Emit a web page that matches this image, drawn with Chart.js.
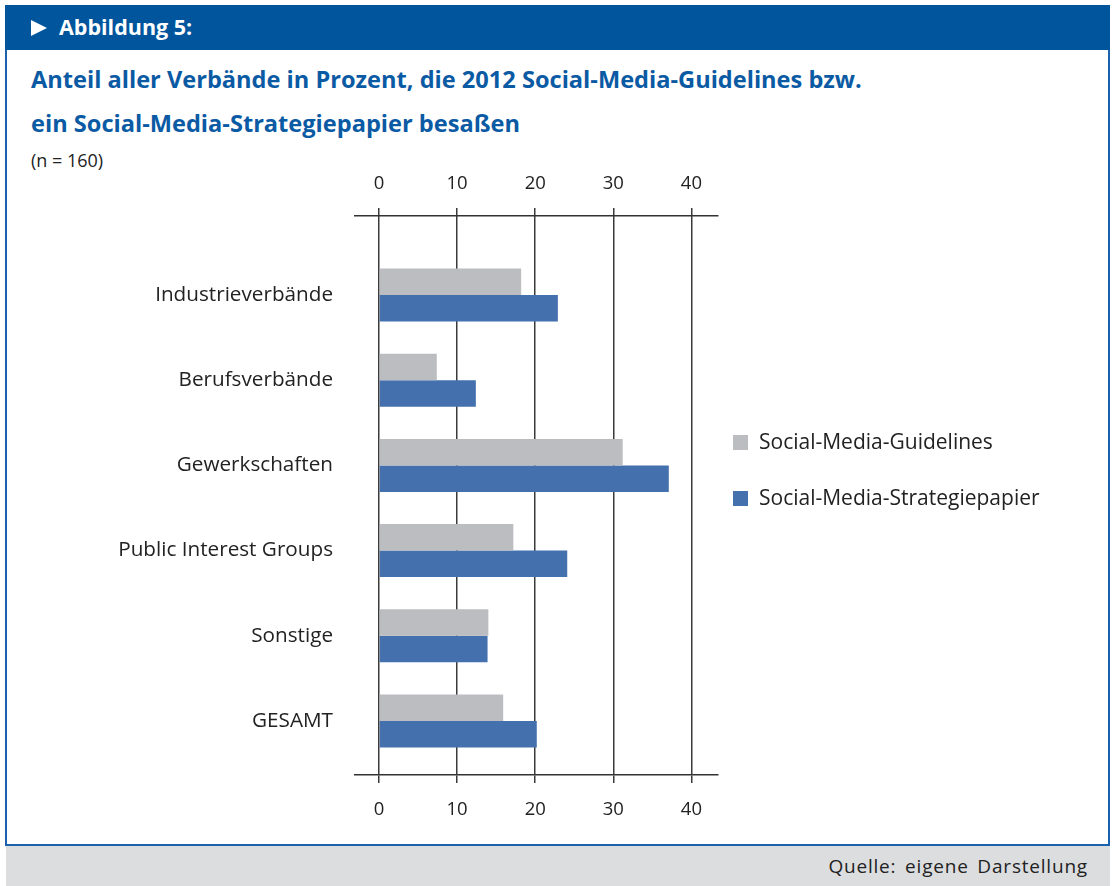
<!DOCTYPE html>
<html lang="de">
<head>
<meta charset="utf-8">
<title>Abbildung 5</title>
<script src="https://cdn.jsdelivr.net/npm/chart.js@4.4.1/dist/chart.umd.min.js"></script>
<style>
  body { margin: 0; width: 1112px; height: 886px; position: relative; overflow: hidden; background: #fff; font-family: "Open Sans", sans-serif; color: #222; }
  .kopf { position: absolute; left: 5px; top: 5px; width: 1105px; height: 45px; background: #00559d; }
  .kopf .pfeil { position: absolute; left: 26px; top: 15px; width: 0; height: 0; border-left: 16px solid #fff; border-top: 8px solid transparent; border-bottom: 8px solid transparent; }
  .kopf .text { position: absolute; left: 54px; top: 8px; color: #fff; font-weight: bold; font-size: 21.5px; line-height: 28px; }
  .rahmen { position: absolute; left: 5px; top: 50px; width: 1101px; height: 794px; border: 2px solid #1a62b0; border-top: none; }
  .titel { position: absolute; left: 31px; top: 57px; color: #0b5aa4; font-weight: bold; font-size: 23.6px; line-height: 44px; }
  .n { position: absolute; left: 31px; top: 147px; font-size: 18px; line-height: 26px; }
  .fuss { position: absolute; left: 6px; top: 846px; width: 1104px; height: 40px; background: #dcdddf; }
  .fuss span { position: absolute; right: 22px; top: 7px; font-size: 19px; line-height: 26px; letter-spacing: 0.8px; word-spacing: 3px; }
  #diagramm { position: absolute; left: 0; top: 100px; }
  #legende { position: absolute; left: 733px; top: 425px; font-size: 21px; }
  #legende div { height: 56px; line-height: 32px; white-space: nowrap; }
  #legende i { display: inline-block; width: 15px; height: 15px; margin-right: 11px; vertical-align: -1px; }
</style>
</head>
<body>
<div class="kopf"><div class="pfeil"></div><div class="text">Abbildung 5:</div></div>
<div class="rahmen"></div>
<div class="titel">Anteil aller Verbände in Prozent, die 2012 Social-Media-Guidelines bzw.<br>ein Social-Media-Strategiepapier besaßen</div>
<div class="n">(n = 160)</div>
<canvas id="diagramm" width="1112" height="740"></canvas>
<div id="legende"></div>
<div class="fuss"><span>Quelle: eigene Darstellung</span></div>

<script>
// Daten aus der Abbildung (geschätzt)
const kategorien = ['Industrieverbände', 'Berufsverbände', 'Gewerkschaften', 'Public Interest Groups', 'Sonstige', 'GESAMT'];
const guidelines = [18.2, 7.4, 31.2, 17.2, 14.0, 15.9];
const strategiepapier = [22.9, 12.4, 37.1, 24.1, 13.9, 20.2];
const achsenTicks = [0, 10, 20, 30, 40];
const serienNamen = ['Social-Media-Guidelines', 'Social-Media-Strategiepapier'];
const farben = ['#bcbdc1', '#4470ae'];

const schrift = { family: '"Open Sans", sans-serif', size: 18.5 };

function xAchse(position) {
    return {
        type: 'linear',
        position: position,
        min: -3.07,
        max: 43.4,
        z: 1,
        afterBuildTicks: function(scale) {
            scale.ticks = achsenTicks.map(v => ({ value: v }));
        },
        afterFit: function(scale) {
            scale.height = position === 'top' ? 116 : 65;
        },
        grid: {
            color: '#3b3b3b',
            lineWidth: 1.5,
            tickLength: 8,
            drawOnChartArea: position === 'bottom'
        },
        border: { color: '#333', width: 1.5 },
        ticks: { font: schrift, color: '#222', padding: position === 'top' ? 13 : 16 }
    };
}

const ctx = document.getElementById('diagramm').getContext('2d');
const chart = new Chart(ctx, {
    type: 'bar',
    data: {
        datasets: [
            {
                label: serienNamen[0],
                data: guidelines.map((v, i) => ({ x: v, y: i })),
                backgroundColor: farben[0],
                xAxisID: 'x',
                yAxisID: 'y'
            },
            {
                label: serienNamen[1],
                data: strategiepapier.map((v, i) => ({ x: v, y: i })),
                backgroundColor: farben[1],
                xAxisID: 'x',
                yAxisID: 'y'
            }
        ]
    },
    options: {
        indexAxis: 'y',
        responsive: false,
        animation: false,
        categoryPercentage: 0.622,
        barPercentage: 1,
        layout: { padding: { left: 0, right: 394, top: 0, bottom: 0 } },
        plugins: {
            legend: { display: false },
            tooltip: { enabled: false }
        },
        scales: {
            x: xAchse('bottom'),
            x2: xAchse('top'),
            y: {
                type: 'linear',
                reverse: true,
                offset: false,
                min: -0.927,
                max: 5.634,
                afterBuildTicks: function(scale) {
                    scale.ticks = kategorien.map((k, i) => ({ value: i }));
                },
                afterFit: function(scale) {
                    scale.width = 355;
                },
                grid: { display: false },
                border: { display: false },
                ticks: {
                    font: { family: '"Open Sans", sans-serif', size: 20.7 },
                    color: '#222',
                    padding: 14,
                    callback: v => kategorien[v]
                }
            }
        }
    }
});

// Legende
const legende = document.getElementById('legende');
chart.data.datasets.forEach(ds => {
    const zeile = document.createElement('div');
    zeile.innerHTML = '<i style="background:' + ds.backgroundColor + '"></i>' + ds.label;
    legende.appendChild(zeile);
});
</script>
</body>
</html>
